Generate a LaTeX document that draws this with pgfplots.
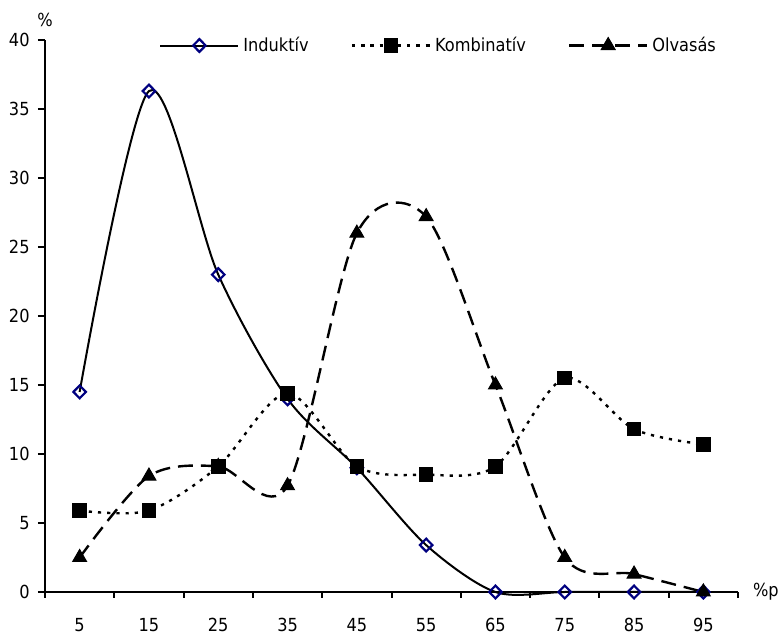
\documentclass[border=0pt]{standalone}
\usepackage{fontspec}
\setmainfont{DejaVu Sans Condensed}
\usepackage{pgfplots}
\pgfplotsset{compat=1.18}
\definecolor{navyb}{RGB}{0,0,128}
\begin{document}
\fontsize{9pt}{11pt}\selectfont
\begin{tikzpicture}
\begin{axis}[
  scale only axis,
  width=346.5pt, height=276pt,
  xmin=0, xmax=100, ymin=0, ymax=40,
  axis x line*=bottom, axis y line*=left,
  axis line style={line width=1.2pt},
  every tick/.style={black, line width=1pt},
  tick align=outside,
  xtick={5,15,...,95},
  major x tick style={draw=none},
  minor xtick={0,10,...,100},
  minor tick length=3pt,
  ytick={0,5,...,40},
  major tick length=3.5pt,
  /pgf/number format/assume math mode=true,
  tick label style={font=\fontsize{9pt}{11pt}\selectfont},
  xticklabel style={inner sep=1pt, yshift=-8.5pt},
  yticklabel style={xshift=-1pt},
  legend columns=3,
  legend style={draw=none, fill=none, at={(0.1645,0.99)}, anchor=west,
    inner xsep=0pt, font=\fontsize{9pt}{11pt}\selectfont,
    /tikz/every even column/.append style={column sep=19pt}},
  legend cell align=left,
  legend image code/.code={\draw[mark repeat=2,mark phase=2,#1] plot coordinates {(0pt,0pt) (19.5pt,0pt) (39pt,0pt)};},
  clip=false,
]
\addplot[black, line width=1pt, smooth, tension=0.5, mark=diamond, mark size=3.2pt,
  mark options={solid, draw=navyb, fill=white, line width=1.1pt, xscale=1.3}]
  coordinates {(5,14.5) (15,36.3) (25,23.0) (35,14.0) (45,9.0) (55,3.4) (65,0) (75,0) (85,0) (95,0)};
\addlegendentry{Induktív}
\addplot[black, line width=1.2pt, dash pattern=on 1.6pt off 3pt, smooth, tension=0.5, mark=square*, mark size=3.4pt,
  mark options={solid, fill=black, line width=0.5pt}]
  coordinates {(5,5.9) (15,5.9) (25,9.1) (35,14.4) (45,9.1) (55,8.5) (65,9.1) (75,15.5) (85,11.8) (95,10.7)};
\addlegendentry{Kombinatív}
\addplot[black, line width=1.2pt, dash pattern=on 7.5pt off 4pt, smooth, tension=0.5, mark=triangle*, mark size=4pt,
  mark options={solid, fill=black, line width=0.5pt}]
  coordinates {(5,2.5) (15,8.4) (25,9.1) (35,7.7) (45,26.0) (55,27.2) (65,15.0) (75,2.5) (85,1.3) (95,0)};
\addlegendentry{Olvasás}
\node[anchor=south] at (rel axis cs:0,1) [yshift=3.5pt] {\%};
\node[anchor=west, inner sep=0pt] at (rel axis cs:1,0) [xshift=7.3pt] {\%p};
\end{axis}
\path (current axis.south west) +(-22.5pt,-17.8pt) rectangle +(368pt,296pt);
\end{tikzpicture}
\end{document}
